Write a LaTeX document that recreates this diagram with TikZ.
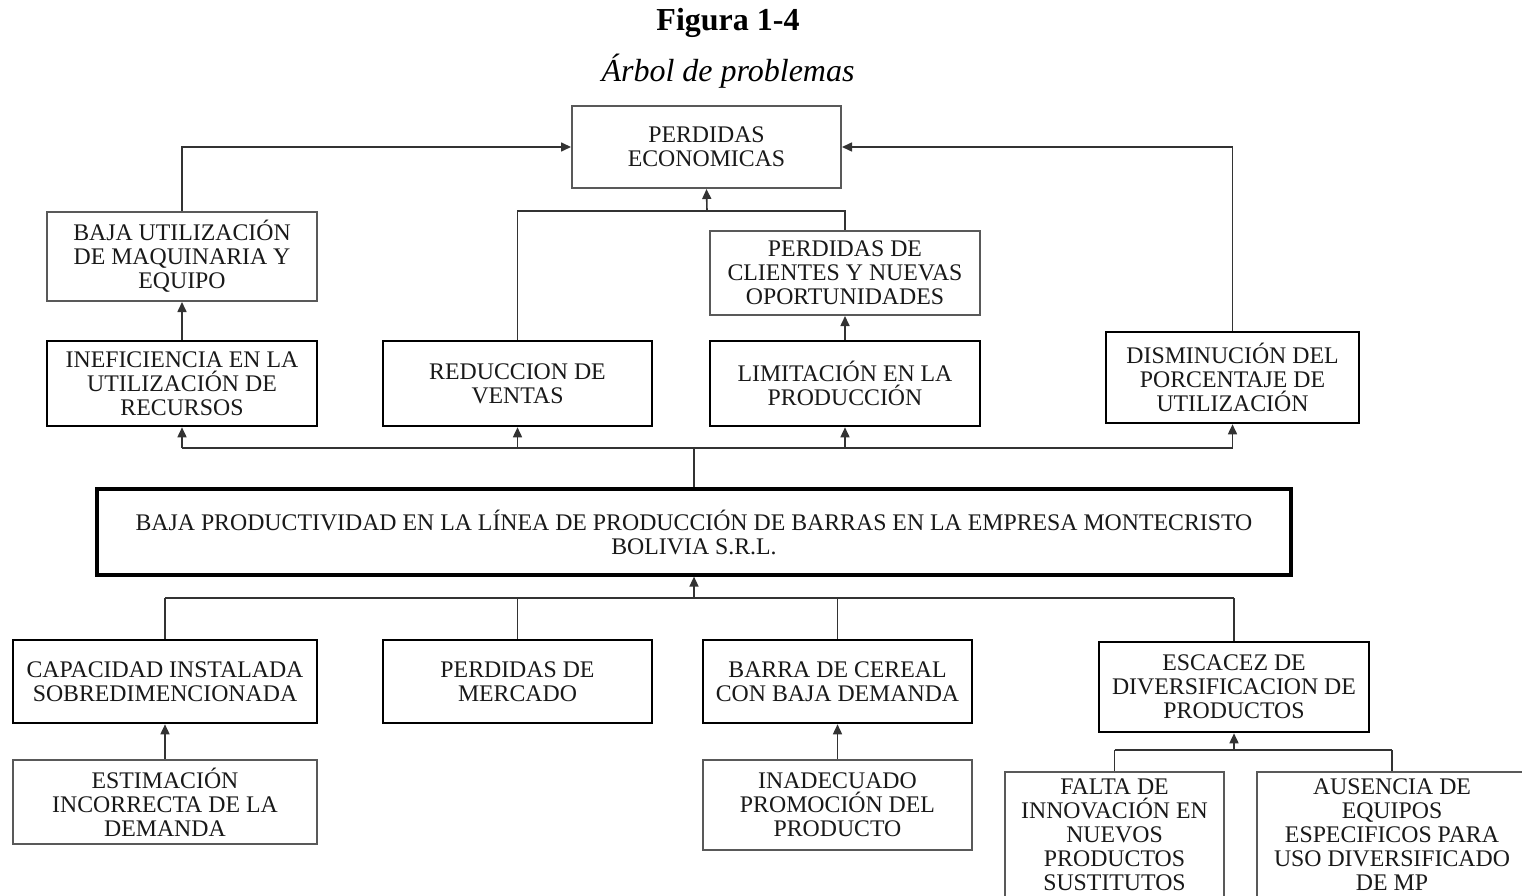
\documentclass[tikz,border=0pt]{standalone}
\usepackage{fontspec}
\setmainfont{Liberation Serif}
\usetikzlibrary{arrows.meta}
\begin{document}
\begin{tikzpicture}[x=1pt,y=-1pt,
  txt/.style={font=\fontsize{23.8}{24}\selectfont, text=black!90, align=center, inner sep=0pt},
  thinbox/.style={txt, draw=black!65, line width=2pt},
  thickbox/.style={txt, draw=black, line width=2.6pt},
  mainbox/.style={txt, draw=black, line width=3.2pt},
  link/.style={draw=black!80, line width=1.6pt},
  arr/.style={link, -{Triangle[length=10pt,width=9pt]}}]
\useasboundingbox (0,0) rectangle (1522,896);
\clip (0,0) rectangle (1522,896);
\fill[white] (0,0) rectangle (1522,896);

% headings
\node[anchor=base, inner sep=0pt, font=\bfseries\fontsize{32}{36}\selectfont] (fig) at (728,31) {Figura 1-4};
\node[anchor=base, inner sep=0pt, font=\itshape\fontsize{32}{36}\selectfont] (sub) at (728,82) {Árbol de problemas};

% effects
\node[thinbox, minimum width=269pt, minimum height=82pt] (pe) at (706.5,147) {PERDIDAS\\ECONOMICAS};
\node[thinbox, minimum width=270pt, minimum height=89pt] (bu) at (182,256.5) {BAJA UTILIZACIÓN\\DE MAQUINARIA Y\\EQUIPO};
\node[thinbox, minimum width=270pt, minimum height=84pt] (pdc) at (845,273) {PERDIDAS DE\\CLIENTES Y NUEVAS\\OPORTUNIDADES};
\node[thickbox, minimum width=270pt, minimum height=85pt] (inef) at (182,383.5) {INEFICIENCIA EN LA\\UTILIZACIÓN DE\\RECURSOS};
\node[thickbox, minimum width=269pt, minimum height=85pt] (red) at (517.5,383.5) {REDUCCION DE\\VENTAS};
\node[thickbox, minimum width=270pt, minimum height=85pt] (lim) at (845,383.5) {LIMITACIÓN EN LA\\PRODUCCIÓN};
\node[thickbox, minimum width=253pt, minimum height=91pt] (dis) at (1232.5,377.5) {DISMINUCIÓN DEL\\PORCENTAJE DE\\UTILIZACIÓN};

% central problem
\node[mainbox, minimum width=1194pt, minimum height=86pt] (main) at (694,532) {BAJA PRODUCTIVIDAD EN LA LÍNEA DE PRODUCCIÓN DE BARRAS EN LA EMPRESA MONTECRISTO\\BOLIVIA S.R.L.};

% causes
\node[thickbox, minimum width=304pt, minimum height=83pt] (cap) at (165,681.5) {CAPACIDAD INSTALADA\\SOBREDIMENCIONADA};
\node[thickbox, minimum width=269pt, minimum height=83pt] (pm) at (517.5,681.5) {PERDIDAS DE\\MERCADO};
\node[thickbox, minimum width=269pt, minimum height=83pt] (bc) at (837.5,681.5) {BARRA DE CEREAL\\CON BAJA DEMANDA};
\node[thickbox, minimum width=270pt, minimum height=90pt] (esc) at (1234,687) {ESCACEZ DE\\DIVERSIFICACION DE\\PRODUCTOS};
\node[thinbox, minimum width=304pt, minimum height=84pt] (est) at (165,802) {ESTIMACIÓN\\INCORRECTA DE LA\\DEMANDA};
\node[thinbox, minimum width=269pt, minimum height=90pt] (ina) at (837.5,805) {INADECUADO\\PROMOCIÓN DEL\\PRODUCTO};
\node[thinbox, minimum width=219pt, minimum height=126pt] (falta) at (1114.5,835) {FALTA DE\\INNOVACIÓN EN\\NUEVOS\\PRODUCTOS\\SUSTITUTOS};
\node[thinbox, minimum width=270pt, minimum height=126pt] (aus) at (1392,835) {AUSENCIA DE\\EQUIPOS\\ESPECIFICOS PARA\\USO DIVERSIFICADO\\DE MP};

% junction points
\coordinate (j1) at (707,211);
\coordinate (j2) at (694,448);
\coordinate (j3) at (694,598);
\coordinate (j4) at (1234,750);

% links towards the top effect
\draw[arr] (bu.north) |- (pe.west);
\draw[arr] (dis.north) |- (pe.east);
\draw[link] (red.north) -- (red.north |- j1) -- (pdc.north |- j1) -- (pdc.north);
\draw[arr] (j1) -- (pe.south);
\draw[arr] (inef.north) -- (bu.south);
\draw[arr] (lim.north) -- (pdc.south);

% central problem to effects
\draw[link] (main.north) -- (j2);
\draw[link] (inef.south |- j2) -- (dis.south |- j2);
\draw[arr] (inef.south |- j2) -- (inef.south);
\draw[arr] (red.south |- j2) -- (red.south);
\draw[arr] (lim.south |- j2) -- (lim.south);
\draw[arr] (dis.south |- j2) -- (dis.south);

% causes to central problem
\draw[arr] (j3) -- (main.south);
\draw[link] (cap.north |- j3) -- (esc.north |- j3);
\draw[link] (cap.north |- j3) -- (cap.north);
\draw[link] (pm.north |- j3) -- (pm.north);
\draw[link] (bc.north |- j3) -- (bc.north);
\draw[link] (esc.north |- j3) -- (esc.north);

% root causes
\draw[arr] (est.north) -- (cap.south);
\draw[arr] (ina.north) -- (bc.south);
\draw[arr] (j4) -- (esc.south);
\draw[link] (falta.north |- j4) -- (aus.north |- j4);
\draw[link] (falta.north |- j4) -- (falta.north);
\draw[link] (aus.north |- j4) -- (aus.north);
\end{tikzpicture}
\end{document}
